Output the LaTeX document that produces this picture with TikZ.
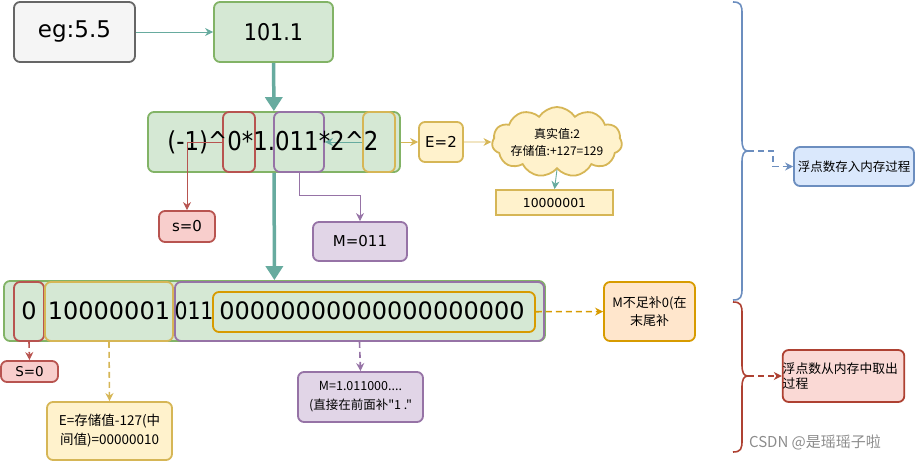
\documentclass[tikz,border=0pt]{standalone}
\usepackage{fontspec}
\setmainfont{DejaVu Sans}
\newfontfamily\cjk{Noto Sans CJK SC}
\usetikzlibrary{arrows.meta,shapes.symbols}
\definecolor{gyfill}{HTML}{F5F5F5}\definecolor{gyline}{HTML}{666666}
\definecolor{gfill}{HTML}{D5E8D4}\definecolor{gline}{HTML}{82B366}
\definecolor{teal}{HTML}{67AB9F}
\definecolor{rfill}{HTML}{F8CECC}\definecolor{rline}{HTML}{B85450}
\definecolor{pfill}{HTML}{E1D5E7}\definecolor{pline}{HTML}{9673A6}
\definecolor{yfill}{HTML}{FFF2CC}\definecolor{yline}{HTML}{D6B656}
\definecolor{ofill}{HTML}{FFE6CC}\definecolor{oline}{HTML}{D79B00}
\definecolor{bfill}{HTML}{DAE8FC}\definecolor{bline}{HTML}{6C8EBF}
\definecolor{r2fill}{HTML}{FAD9D5}\definecolor{r2line}{HTML}{AE4132}
\begin{document}
\begin{tikzpicture}[x=1pt,y=-1pt,
  box/.style={draw, rounded corners=6pt, line width=1.8pt, inner sep=0pt, align=center, text=black},
  greybox/.style={box, fill=gyfill, draw=gyline},
  greenbox/.style={box, fill=gfill, draw=gline},
  redbox/.style={box, fill=rfill, draw=rline},
  purbox/.style={box, fill=pfill, draw=pline},
  yelbox/.style={box, fill=yfill, draw=yline},
  orgbox/.style={box, fill=ofill, draw=oline},
  frame/.style={box, fill=none},
  tip/.style={-{Stealth[length=8pt,width=8pt]}},
  thin/.style={tip, line width=0.9pt},
  dashedarrow/.style={tip, line width=1.6pt, dash pattern=on 6pt off 4pt},
  bigarrow/.style={-{Triangle[length=14pt,width=17pt]}, line width=3.5pt, draw=teal},
  big/.style={font=\fontsize{24}{28}\selectfont},
  wsize/.style args={#1x#2}{minimum width=#1pt, minimum height=#2pt}
]
\useasboundingbox (0,0) rectangle (916,462);

% row 1
\node[greybox, wsize=121x60, font=\fontsize{23}{27}\selectfont] (eg) at (74.5,32) {eg:5.5};
\node[greenbox, wsize=119x60, font=\fontsize{23}{27}\selectfont] (b101) at (273.5,32) {\scalebox{0.9}[1]{101.1}};
\draw[thin, draw=teal] (eg) -- (b101);

% row 2
\node[greenbox, wsize=252x60] (r2) at (274,142) {};
\draw[bigarrow] (b101) -- (r2);
\node[frame, draw=rline, wsize=32x60] (r2red) at (239,142) {};
\node[frame, draw=pline, wsize=50x60] (r2pur) at (299,142) {};
\node[frame, draw=yline, wsize=32x60] (r2yel) at (379,142) {};
\draw[thin, draw=teal] (r2yel.west) -- (r2pur.east);
\node[font=\fontsize{26}{30}\selectfont] (r2txt) at (273,142) {\scalebox{0.88}[1]{(-1)\^{}0*1.011*2\^{}2}};

\node[yelbox, wsize=44x40, font=\fontsize{15}{18}\selectfont] (e2) at (441,142) {E=2};
\draw[thin, draw=yline] (r2) -- (e2);
\node[cloud, cloud puffs=11, cloud puff arc=115, aspect=1.9, draw=yline, fill=yfill, line width=1.8pt,
      minimum width=130pt, minimum height=70pt, inner sep=0pt] (cl) at (557,142) {};
\node[font=\cjk\fontsize{12}{17}\selectfont, align=center] (cltxt) at (cl.center) {真实值:2\\存储值:+127=129};
\draw[thin, draw=yline] (e2) -- (cl);
\node[yelbox, rounded corners=0pt, wsize=117x25, font=\fontsize{12.4}{15}\selectfont] (b100) at (554.5,202.5) {10000001};
\draw[thin, draw=teal] (cl.south) -- (b100.north);

\node[redbox, wsize=56x31, font=\fontsize{15}{18}\selectfont] (s0) at (187,226.5) {s=0};
\node[purbox, wsize=94x39, font=\fontsize{15}{18}\selectfont] (m011) at (360,241.5) {M=011};
\draw[thin, draw=rline] (r2red.west) -| (s0.north);
\draw[thin, draw=pline] (r2pur.south) -- ++(0,23) -| (m011.north);

% row 3
\node[greenbox, wsize=541x60] (r3) at (274.5,311) {};
\draw[bigarrow] (r2) -- (r3);
\node[frame, draw=rline, wsize=30x59] (r3red) at (29,311.5) {};
\node[frame, draw=yline, wsize=128x59] (r3yel) at (109,311.5) {};
\node[frame, draw=pline, wsize=369x59] (r3pur) at (359.5,311.5) {};
\node[frame, draw=oline, wsize=322x40] (r3org) at (374,312) {};
\node[big] (t0) at (29,311) {0};
\node[big] (t1) at (109,311) {10000001};
\node[big] (t2) at (194,311) {\scalebox{0.85}[1]{011}};
\node[big] (t3) at (372,311) {00000000000000000000};

\node[orgbox, wsize=91x59, font=\cjk\fontsize{13}{18}\selectfont] (mfill) at (649.5,311.5) {M不足补0(在\\末尾补};
\draw[dashedarrow, draw=oline] (r3org) -- (mfill);

\node[redbox, wsize=57x21, font=\fontsize{13.5}{16}\selectfont] (S0) at (29.5,371.5) {S=0};
\node[yelbox, wsize=125x58, font=\cjk\fontsize{13.5}{19}\selectfont] (ebox) at (109.5,431) {E=存储值-127(中\\间值)=00000010};
\node[purbox, wsize=125x50, font=\cjk\fontsize{12.5}{19}\selectfont] (mbox) at (360.5,397) {M=1.011000....\\(直接在前面补"1 ."};
\draw[dashedarrow, draw=rline] (r3red.south) -- (S0.north);
\draw[dashedarrow, draw=yline] (r3yel.south) -- (ebox.north);
\draw[dashedarrow, draw=pline] (r3pur.south) -- (mbox.north);

% right side braces
\coordinate (btop) at (733,2);
\coordinate (btip) at (748,151);
\coordinate (bbot) at (733,300);
\draw[draw=bline, line width=1.6pt] (btop) .. controls (741,2) and (742,5) .. (742,14) -- (742,140)
   .. controls (742,148) and (744,151) .. (btip) .. controls (744,151) and (742,154) .. (742,162)
   -- (742,288) .. controls (742,297) and (741,300) .. (bbot);
\coordinate (rtop) at (733,302);
\coordinate (rtip) at (748,376);
\coordinate (rbot) at (733,452);
\draw[draw=r2line, line width=1.6pt] (rtop) .. controls (741,302) and (742,305) .. (742,314) -- (742,365)
   .. controls (742,373) and (744,376) .. (rtip) .. controls (744,376) and (742,379) .. (742,387)
   -- (742,440) .. controls (742,449) and (741,452) .. (rbot);

\node[box, fill=bfill, draw=bline, wsize=120x39, font=\cjk\fontsize{12.5}{15}\selectfont] (store) at (854,166.5) {浮点数存入内存过程};
\node[box, fill=r2fill, draw=r2line, wsize=121x52, font=\cjk\fontsize{12.8}{15}\selectfont, align=left] (fetch) at (843.5,376) {浮点数从内存中取出\\过程\hspace*{7.5em}};
\draw[dashedarrow, draw=bline] (btip) -- ++(25,0) |- (store.west);
\draw[dashedarrow, draw=r2line] (rtip) -- (fetch.west);

\node[font=\cjk\fontsize{15}{18}\selectfont, text=black!45] (wm) at (815,442) {CSDN @是瑶瑶子啦};
\end{tikzpicture}
\end{document}
